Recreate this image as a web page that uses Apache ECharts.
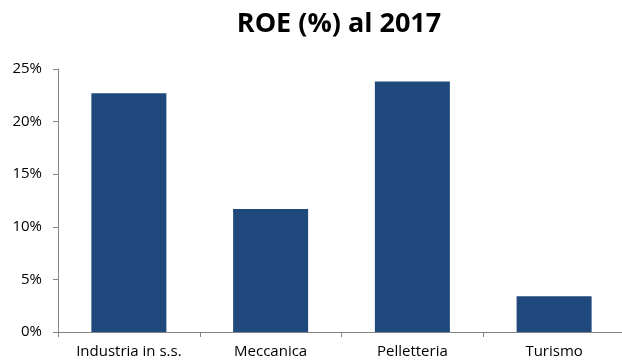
<!DOCTYPE html>
<html>
<head>
<meta charset="utf-8">
<script src="https://cdn.jsdelivr.net/npm/echarts@6/dist/echarts.min.js"></script>
<style>
  html, body { margin: 0; padding: 0; background: #fff; overflow: hidden; }
  /* the plot runs slightly past the right edge of the window */
  #chart { width: 630px; height: 361px; }
</style>
</head>
<body>
<div id="chart"></div>
<script>
// ROE by sector, 2017 (percent)
const categories = ['Industria in s.s.', 'Meccanica', 'Pelletteria', 'Turismo'];
const roeValues = [22.7, 11.7, 23.8, 3.4];
const yTicks = [0, 5, 10, 15, 20, 25];

const chart = echarts.init(document.getElementById('chart'));
chart.setOption({
  animation: false,
  title: {
    text: 'ROE (%) al 2017',
    left: 334,
    top: 6,
    textAlign: 'center',
    textStyle: { fontFamily: 'Open Sans', fontWeight: 'bold', fontSize: 27, color: '#000' }
  },
  grid: { left: 58, right: 5, top: 69, bottom: 29, containLabel: false },
  xAxis: {
    type: 'category',
    data: categories,
    axisLine: { lineStyle: { color: '#868686', width: 1 } },
    axisTick: { show: true, length: 5, lineStyle: { color: '#868686' } },
    axisLabel: { color: '#000', fontFamily: 'Open Sans', fontSize: 15, margin: 12 }
  },
  yAxis: {
    type: 'value',
    min: yTicks[0],
    max: yTicks[yTicks.length - 1],
    interval: 5,
    axisLine: { show: true, lineStyle: { color: '#868686', width: 1 } },
    axisTick: { show: true, length: 5, lineStyle: { color: '#868686' } },
    splitLine: { show: false },
    axisLabel: { color: '#000', fontFamily: 'Open Sans', fontSize: 15, margin: 16, formatter: '{value}%' }
  },
  series: [{
    type: 'bar',
    data: roeValues,
    barWidth: 75,
    itemStyle: { color: '#1F497D' }
  }]
});
</script>
</body>
</html>
